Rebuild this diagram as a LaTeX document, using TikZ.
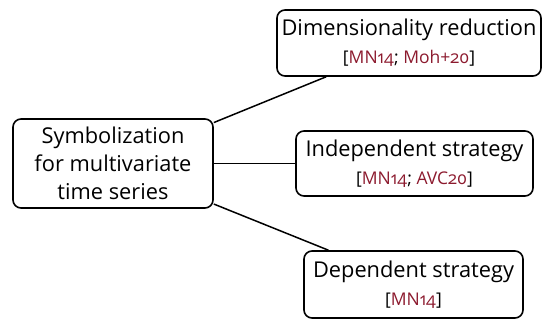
\documentclass[tikz,border=0pt]{standalone}
\usepackage{fontspec}
\setmainfont{Open Sans}[Numbers=OldStyle]
\definecolor{citered}{RGB}{140,26,46}
\tikzset{
  box/.style={draw, rounded corners=8pt, line width=1.6pt, align=center, inner sep=0pt,
    font=\fontsize{21.8}{28}\selectfont},
  conn/.style={line width=1.5pt},
}
\newcommand{\citesm}[1]{{\fontsize{17.5}{30}\selectfont #1}}
\newcommand{\cref}[1]{\textcolor{citered}{#1}}
\begin{document}
\begin{tikzpicture}[x=1pt,y=-1pt]
\useasboundingbox (0,0) rectangle (544,321);
\node[box, minimum width=200pt, minimum height=89pt] (root) at (113,163.5)
  {Symbolization\\for multivariate\\time series};
\node[box, minimum width=264pt, minimum height=66pt] (dim) at (409,43)
  {Dimensionality reduction\\\citesm{[\cref{MN14}; \cref{Moh+20}]}};
\node[box, minimum width=237pt, minimum height=65pt] (ind) at (414.5,163.5)
  {Independent strategy\\\citesm{[\cref{MN14}; \cref{AVC20}]}};
\node[box, minimum width=219pt, minimum height=67pt] (dep) at (413.5,284.5)
  {Dependent strategy\\\citesm{[\cref{MN14}]}};
\draw[conn] (root) -- (dim);
\draw[conn] (root) -- (ind);
\draw[conn] (root) -- (dep);
\end{tikzpicture}
\end{document}
